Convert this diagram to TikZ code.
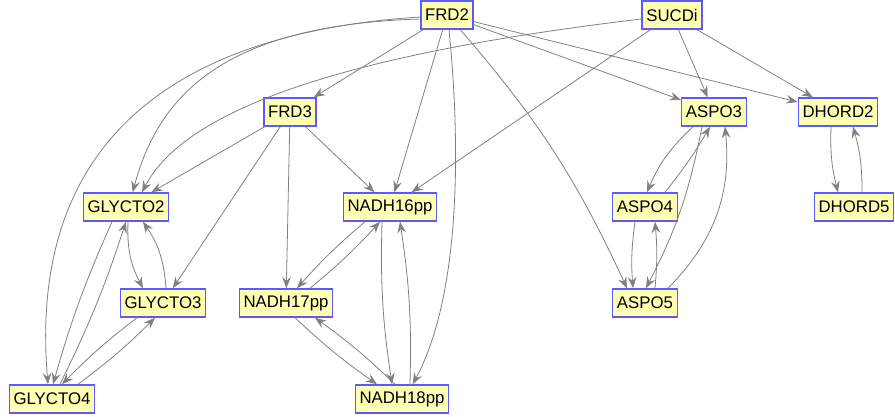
\documentclass[tikz,border=0pt]{standalone}
\usepackage{fontspec}
\setmainfont{Liberation Sans}
\usetikzlibrary{arrows.meta}

\definecolor{boxfill}{HTML}{FFFFB4}
\definecolor{boxline}{HTML}{5A5AFF}
\definecolor{edgegray}{HTML}{808080}

\tikzset{
  rxn/.style={draw=boxline, fill=boxfill, line width=1.1pt, inner xsep=3.2pt, inner ysep=0pt,
    minimum height=21pt, font=\fontsize{12.6}{14}\selectfont},
  flux/.style={->, draw=edgegray, line width=0.6pt},
  >={Stealth[length=8.5pt,width=6.5pt,inset=3pt]}
}

\begin{document}
\begin{tikzpicture}[x=0.75pt,y=-0.75pt]
\useasboundingbox (0,0) rectangle (895,417);

\node[rxn] (FRD2) at (447,15){FRD2};
\node[rxn] (SUCDi) at (672,15){SUCDi};
\node[rxn] (FRD3) at (290,112){FRD3};
\node[rxn] (ASPO3) at (714,112){ASPO3};
\node[rxn] (DHORD2) at (838,112){DHORD2};
\node[rxn] (GLYCTO2) at (126,207){GLYCTO2};
\node[rxn] (NADH16pp) at (390,207){NADH16pp};
\node[rxn] (ASPO4) at (645,207){ASPO4};
\node[rxn] (DHORD5) at (854,207){DHORD5};
\node[rxn] (GLYCTO3) at (163,303){GLYCTO3};
\node[rxn] (NADH17pp) at (286,303){NADH17pp};
\node[rxn] (ASPO5) at (645,303){ASPO5};
\node[rxn] (GLYCTO4) at (52,399){GLYCTO4};
\node[rxn] (NADH18pp) at (402,399){NADH18pp};

% FRD2
\draw[flux] (FRD2) -- (FRD3);
\draw[flux] (FRD2) -- (NADH16pp);
\draw[flux] (FRD2) -- (ASPO3);
\draw[flux] (FRD2) -- (DHORD2);
\draw[flux] ([yshift=-3pt]FRD2.west) .. controls (230,25) and (160,90) .. ([xshift=5pt]GLYCTO2.north);
\draw[flux] ([yshift=-1.5pt]FRD2.west) .. controls (140,35) and (30,170) .. ([xshift=-3pt]GLYCTO4.north);
\draw[flux] ([xshift=1.5pt]FRD2.south) .. controls (462,160) and (458,300) .. ([xshift=8pt]NADH18pp.north);
\draw[flux] ([xshift=10pt]FRD2.south) to[bend left=8] ([xshift=-13.5pt]ASPO5.north);

% SUCDi
\draw[flux] ([yshift=-3pt]SUCDi.west) .. controls (380,50) and (190,100) .. ([xshift=12pt]GLYCTO2.north);
\draw[flux] (SUCDi) -- (NADH16pp);
\draw[flux] (SUCDi) -- (ASPO3);
\draw[flux] (SUCDi) -- (DHORD2);

% FRD3
\draw[flux] (FRD3) -- (GLYCTO2);
\draw[flux] (FRD3) -- (GLYCTO3);
\draw[flux] (FRD3) -- (NADH17pp);
\draw[flux] (FRD3) -- (NADH16pp);

% GLYCTO
\draw[flux] ([xshift=-10.5pt]GLYCTO2.south) to[bend right=4] ([xshift=0.75pt]GLYCTO4.north);
\draw[flux] ([xshift=6pt]GLYCTO4.north) to[bend right=4] (GLYCTO2.south);
\draw[flux] ([xshift=1.5pt]GLYCTO2.south) to[bend right=15] ([xshift=-15pt]GLYCTO3.north);
\draw[flux] ([xshift=2.25pt]GLYCTO3.north) to[bend right=15] ([xshift=12.75pt]GLYCTO2.south);
\draw[flux] ([xshift=-19.5pt]GLYCTO3.south) to[bend right=4] ([xshift=7.5pt]GLYCTO4.north);
\draw[flux] ([xshift=19.5pt]GLYCTO4.north) to[bend right=4] ([xshift=-6pt]GLYCTO3.south);

% NADH
\draw[flux] ([xshift=-18.75pt]NADH16pp.south) to[bend right=4] ([xshift=8.25pt]NADH17pp.north);
\draw[flux] ([xshift=18pt]NADH17pp.north) to[bend right=4] ([xshift=-7.5pt]NADH16pp.south);
\draw[flux] ([xshift=-6pt]NADH16pp.south) to[bend right=5] ([xshift=-7.5pt]NADH18pp.north);
\draw[flux] ([xshift=6pt]NADH18pp.north) to[bend right=5] ([xshift=7.5pt]NADH16pp.south);
\draw[flux] ([xshift=6.75pt]NADH17pp.south) to[bend right=4] ([xshift=-18.75pt]NADH18pp.north);
\draw[flux] ([xshift=-5.25pt]NADH18pp.north) to[bend right=4] ([xshift=21.75pt]NADH17pp.south);

% ASPO
\draw[flux] ([xshift=-15.75pt]ASPO3.south) to[bend right=12] ([xshift=1.5pt]ASPO4.north);
\draw[flux] ([xshift=15pt]ASPO4.north) to[bend right=4] ([xshift=-3pt]ASPO3.south);
\draw[flux] ([xshift=-9pt]ASPO3.south) to[bend left=8] ([xshift=0.75pt]ASPO5.north);
\draw[flux] ([xshift=17.25pt]ASPO5.north) to[bend right=25] ([xshift=8.25pt]ASPO3.south);
\draw[flux] ([xshift=-7.5pt]ASPO4.south) to[bend right=6] ([xshift=-9pt]ASPO5.north);
\draw[flux] ([xshift=7.5pt]ASPO5.north) to[bend right=5] ([xshift=7.5pt]ASPO4.south);

% DHORD
\draw[flux] ([xshift=-5.25pt]DHORD2.south) to[bend right=8] ([xshift=-12pt]DHORD5.north);
\draw[flux] ([xshift=6pt]DHORD5.north) to[bend right=8] ([xshift=11.25pt]DHORD2.south);

\end{tikzpicture}
\end{document}
